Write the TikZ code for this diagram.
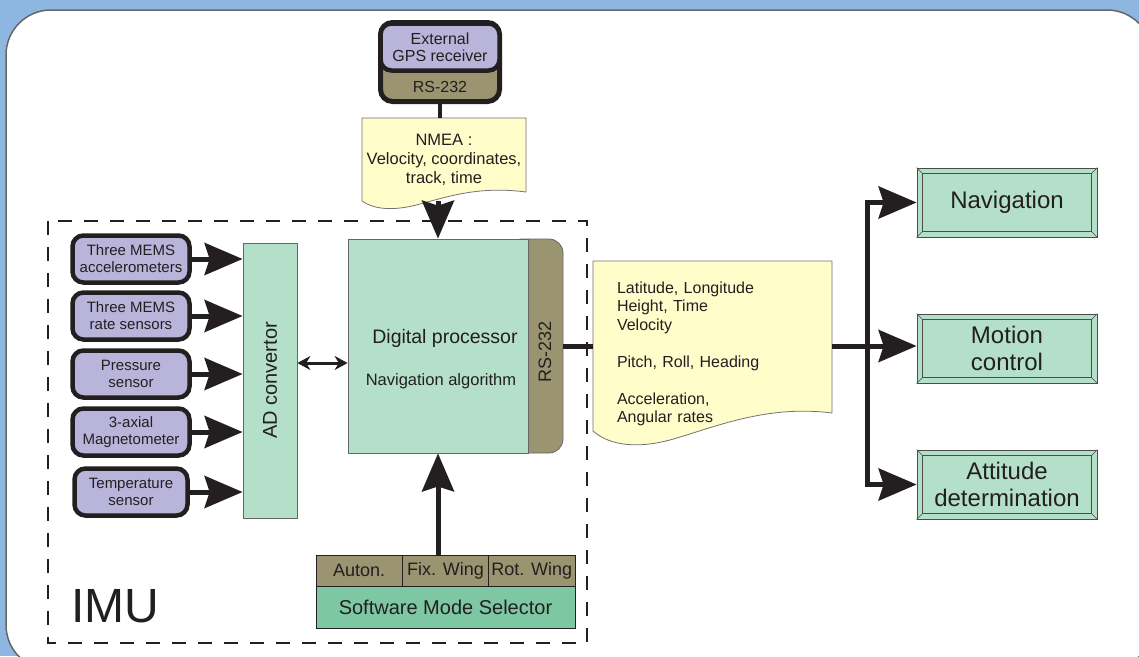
\documentclass[tikz,border=0pt]{standalone}
\usepackage{fontspec}
\setmainfont{Liberation Sans}
\usepackage{graphicx}
\usetikzlibrary{arrows.meta}

\definecolor{bgblue}{HTML}{8DB7E0}
\definecolor{sensorfill}{HTML}{B9B4D9}
\definecolor{bandcol}{HTML}{9A9570}
\definecolor{mint}{HTML}{B4DFC9}
\definecolor{mintdark}{HTML}{7DC7A3}
\definecolor{notefill}{HTML}{FFFDC9}
\definecolor{inkcol}{HTML}{231F20}

\tikzstyle{sensor}=[draw=inkcol,line width=4.5pt,fill=sensorfill,rounded corners=11pt,minimum width=117pt,minimum height=47pt,inner sep=1pt,align=center,font=\fontsize{15}{17}\selectfont]
\tikzstyle{conv}=[draw=black!60,line width=0.8pt,fill=mint,minimum width=54pt,minimum height=275pt,inner sep=0pt,font=\fontsize{20}{24}\selectfont]
\tikzstyle{proc}=[draw=black!60,line width=0.8pt,fill=mint,minimum width=180pt,minimum height=214pt,inner sep=0pt]
\tikzstyle{band}=[draw=black!60,line width=0.8pt,fill=bandcol,rounded corners=14pt,minimum width=55pt,minimum height=214pt,inner sep=0pt]
\tikzstyle{cell}=[draw=inkcol,line width=0.8pt,fill=bandcol,minimum width=86.3pt,minimum height=31pt,inner sep=0pt,font=\fontsize{18}{20}\selectfont]
\tikzstyle{modesel}=[draw=inkcol,line width=0.8pt,fill=mintdark,minimum width=259pt,minimum height=42pt,inner sep=0pt,font=\fontsize{20}{22}\selectfont]
\tikzstyle{outbox}=[draw=black!70,line width=0.8pt,fill=mint,minimum width=180pt,minimum height=69pt,inner sep=0pt,align=center,font=\fontsize{24}{27}\selectfont]
\tikzstyle{note}=[draw=black!55,line width=0.8pt,fill=notefill]
\tikzstyle{feed}=[draw=inkcol,line width=5pt,-{Stealth[length=38pt,width=32pt,inset=5pt]}]
\tikzstyle{wire}=[draw=inkcol,line width=5pt]
\tikzstyle{link}=[draw=inkcol,line width=3pt,{Stealth[length=13pt,width=14pt]}-{Stealth[length=13pt,width=14pt]}]
\tikzstyle{imu}=[draw=inkcol,line width=2.5pt,dash pattern=on 14pt off 12pt]

\begin{document}
\begin{tikzpicture}[x=1pt,y=-1pt,text=inkcol]

   \useasboundingbox (0,0) rectangle (1139,656);
   \begin{scope}
      \clip (0,0) rectangle (1139,656);
      \fill[bgblue] (0,0) rectangle (1139,656);
      \draw[draw=black!60,line width=1.5pt,fill=white,rounded corners=45pt] (6,10) rectangle (1152,670);
   \end{scope}

   \draw[imu] (48,221) rectangle (587,643);
   \node[font=\fontsize{48}{50}\selectfont,anchor=base west] (imu) at (68,622) {IMU};

   \node[draw=inkcol,line width=5pt,fill=bandcol,rounded corners=12pt,minimum width=119pt,minimum height=79pt] (gps) at (440,62) {};
   \node[sensor,minimum width=119pt,font=\fontsize{16}{17}\selectfont] (gpsrx) at (440,47) {External\\GPS receiver};
   \node[font=\fontsize{16}{18}\selectfont] (gpsrs) at (440,87) {RS-232};

   \draw[note] (362,118) -- (526,118) -- (526,192) .. controls (480,186) and (450,196) .. (420,204)
      .. controls (395,211) and (375,210) .. (362,201) -- cycle;
   \node[align=center,font=\fontsize{16.5}{19}\selectfont,minimum width=164pt,minimum height=83pt,inner sep=0pt] (nmea) at (444,159.5) {NMEA :\\Velocity, coordinates,\\track, time};

   \node[sensor] (acc) at (131,259) {Three MEMS\\accelerometers};
   \node[sensor] (rate) at (131,316) {Three MEMS\\rate sensors};
   \node[sensor] (press) at (131,374) {Pressure\\sensor};
   \node[sensor] (mag) at (131,432) {3-axial\\Magnetometer};
   \node[sensor,minimum width=113pt] (temp) at (131,492) {Temperature\\sensor};

   \node[conv] (ad) at (270,380.5) {\rotatebox{90}{AD convertor}};

   \node[band] (band) at (535.5,346) {};
   \node[proc] (dp) at (438,346) {};
   \node[font=\fontsize{19.5}{22}\selectfont] (dpname) at (445,338) {Digital processor};
   \node[font=\fontsize{16.5}{19}\selectfont] (dpalgo) at (441,381) {Navigation algorithm};
   \node[rotate=90,font=\fontsize{18}{20}\selectfont] (rslabel) at (545,352) {RS-232};

   \node[cell] (auton) at (359.2,570.5) {Auton.};
   \node[cell] (fix) at (445.5,570.5) {Fix. Wing};
   \node[cell] (rot) at (531.8,570.5) {Rot. Wing};
   \node[modesel] (modesel) at (445.5,607) {Software Mode Selector};

   \draw[note] (593,261) -- (832,261) -- (832,413) .. controls (770,405) and (720,425) .. (680,437)
      .. controls (640,450) and (610,446) .. (593,431) -- cycle;
   \node[align=left,text width=191pt,inner xsep=24pt,inner ysep=0pt,minimum height=186pt,font=\fontsize{16}{18.5}\selectfont] (outnote) at (712.5,354) {Latitude, Longitude\\Height, Time\\Velocity\\[18.5pt]Pitch, Roll, Heading\\[18.5pt]Acceleration,\\Angular rates};

   \node[outbox] (nav) at (1007,202.5) {Navigation};
   \node[outbox] (motion) at (1007,348.5) {Motion\\control};
   \node[outbox] (att) at (1007,484.5) {Attitude\\determination};
   \foreach \b in {nav,motion,att}{
      \draw[black!70,line width=0.8pt] ([shift={(6,6)}]\b.north west) rectangle ([shift={(-6,-6)}]\b.south east);
      \draw[black!70,line width=0.6pt] (\b.north west) -- ++(6,6) (\b.north east) -- ++(-6,6)
         (\b.south west) -- ++(6,-6) (\b.south east) -- ++(-6,-6);
   }

   \draw[wire,line width=4.5pt] (gps.south) -- (gps.south |- nmea.north);
   \draw[feed] (dp.north |- nmea.south) -- (dp.north);

   \draw[feed] (acc.east) -- (acc.east -| ad.west);
   \draw[feed] (rate.east) -- (rate.east -| ad.west);
   \draw[feed] (press.east) -- (press.east -| ad.west);
   \draw[feed] (mag.east) -- (mag.east -| ad.west);
   \draw[feed] (temp.east) -- (temp.east -| ad.west);

   \coordinate (lk) at (320,363);
   \draw[link] (lk -| ad.east) -- (lk -| dp.west);

   \draw[feed] (dp.south |- fix.north) -- (dp.south);

   \coordinate (jn) at (867,346);
   \draw[wire] (band.east) -- (band.east -| outnote.west);
   \draw[feed] (band.east -| outnote.east) -- (band.east -| motion.west);
   \draw[feed] (jn) |- (nav.west);
   \draw[feed] (jn) |- (att.west);

\end{tikzpicture}
\end{document}
